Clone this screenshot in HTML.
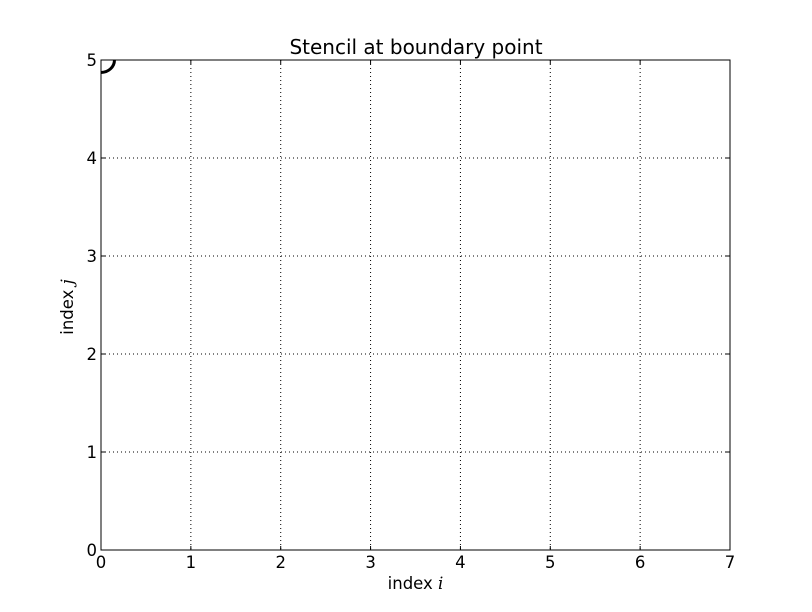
<!DOCTYPE html>
<html><head><meta charset="utf-8"><style>
body{margin:0;background:#fff;}
svg{display:block;font-family:"DejaVu Sans","Liberation Sans",sans-serif;}
</style></head><body>
<svg id="chart" width="812" height="612">
<rect width="812" height="612" fill="#fff"/>
<g id="grid"></g>
<g id="marks"></g>
<rect x="101" y="60" width="629" height="490" fill="none" stroke="#000" stroke-width="1"/>
<g id="ticks"></g>
<text x="416" y="54" text-anchor="middle" font-size="20">Stencil at boundary point</text>
<text x="415.5" y="589" text-anchor="middle" font-size="16.5">index <tspan font-family="DejaVu Serif,serif" font-style="italic">i</tspan></text>
<text transform="translate(73,307) rotate(-90)" text-anchor="middle" font-size="16.5">index <tspan font-family="DejaVu Serif,serif" font-style="italic">j</tspan></text>
</svg>
<script>
const xTicks=[0,1,2,3,4,5,6,7];
const yTicks=[0,1,2,3,4,5];
const arcCenterX=[0];
const arcCenterY=[5];
const arcRadius=[0.15];
const X0=101,X1=730,Y0=550,Y1=60;
const sx=v=>X0+(v-0)/(7-0)*(X1-X0);
const sy=v=>Y0-(v-0)/(5-0)*(Y0-Y1);
const NS="http://www.w3.org/2000/svg";
const grid=document.getElementById('grid'),ticks=document.getElementById('ticks'),marks=document.getElementById('marks');
function mk(p,tag,a){const e=document.createElementNS(NS,tag);for(const k in a)e.setAttribute(k,a[k]);p.appendChild(e);return e;}
xTicks.forEach(v=>{const x=sx(v);
 const g=mk(grid,'line',{x1:x,x2:x,y1:Y1,y2:Y0,stroke:'#000','stroke-width':1,'stroke-dasharray':'1,3'});
 
 
 mk(ticks,'line',{x1:x,x2:x,y1:Y0,y2:Y0-4,stroke:'#000'});
 mk(ticks,'line',{x1:x,x2:x,y1:Y1,y2:Y1+4,stroke:'#000'});
 const t=mk(ticks,'text',{x:x,y:Y0+18,'text-anchor':'middle','font-size':16.5});t.textContent=v;
 
 
});
yTicks.forEach(v=>{const y=sy(v);
 const g=mk(grid,'line',{x1:X0,x2:X1,y1:y,y2:y,stroke:'#000','stroke-width':1,'stroke-dasharray':'1,3'});
 
 
 mk(ticks,'line',{x1:X0,x2:X0+4,y1:y,y2:y,stroke:'#000'});
 mk(ticks,'line',{x1:X1,x2:X1-4,y1:y,y2:y,stroke:'#000'});
 const t=mk(ticks,'text',{x:X0-4,y:y+6,'text-anchor':'end','font-size':16.5});t.textContent=v;
 
 
});
arcCenterX.forEach((cx,i)=>{
 const r=arcRadius[i];
 const pcx=sx(cx),pcy=sy(arcCenterY[i]);
 const rx=sx(cx+r)-pcx,ry=sy(arcCenterY[i]-r*0.85)-pcy;
 const p=mk(marks,'path',{d:`M${pcx} ${pcy+ry} A${rx} ${ry} 0 0 0 ${pcx+rx} ${pcy}`,fill:'none',stroke:'#000','stroke-width':3});
 
 
});
</script>
</body></html>
